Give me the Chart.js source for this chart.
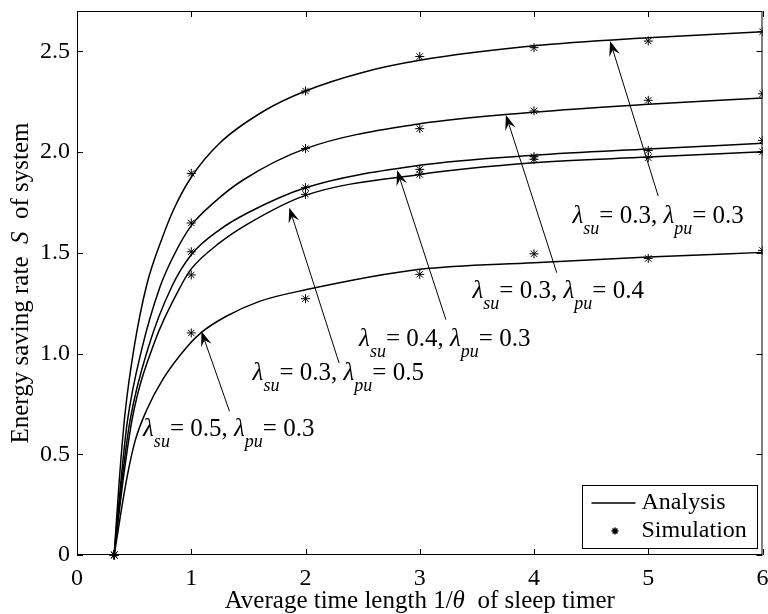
<!DOCTYPE html>
<html><head><meta charset="utf-8">
<script src="https://cdn.jsdelivr.net/npm/chart.js@4.4.1/dist/chart.umd.min.js"></script>
<style>html,body{margin:0;padding:0;background:#fff}#wrap{width:768px;height:614px}</style>
</head><body><div id="wrap"><canvas id="c" width="768" height="614"></canvas></div>
<script>
// ---------- data ----------
const xTicks = [0, 1, 2, 3, 4, 5, 6];
const yTicks = [0, 0.5, 1.0, 1.5, 2.0, 2.5];

// simulation points (asterisks)
const simX = [0.325, 1, 2, 3, 4, 5, 6];
const simA = [0, 1.894, 2.303, 2.474, 2.518, 2.551, 2.597]; // su=0.3 pu=0.3
const simB = [0, 1.648, 2.017, 2.116, 2.204, 2.257, 2.289]; // su=0.3 pu=0.4
const simC = [0, 1.505, 1.823, 1.914, 1.977, 2.008, 2.058]; // su=0.4 pu=0.3
const simD = [0, 1.390, 1.790, 1.889, 1.964, 1.972, 2.002]; // su=0.3 pu=0.5
const simE = [0, 1.102, 1.272, 1.393, 1.495, 1.472, 1.512]; // su=0.5 pu=0.3

// analysis curves
const anaA_x = [0.325, 0.37, 0.42, 0.5, 0.61, 0.75, 0.85, 1.0, 1.25, 1.64, 2.0, 2.5, 3.0, 4.0, 5.0, 6.0];
const anaA_y = [0, 0.37, 0.70, 1.03, 1.34, 1.58, 1.72, 1.875, 2.045, 2.205, 2.303, 2.395, 2.455, 2.527, 2.567, 2.597];
const anaB_x = [0.325, 0.39, 0.44, 0.566, 0.726, 0.85, 1.0, 1.2, 1.45, 2.0, 3.0, 4.0, 5.0, 6.0];
const anaB_y = [0, 0.40, 0.66, 1.019, 1.33, 1.49, 1.635, 1.75, 1.86, 2.017, 2.14, 2.198, 2.237, 2.268];
const anaC_x = [0.325, 0.40, 0.465, 0.624, 0.828, 1.0, 1.25, 1.5, 2.0, 3.0, 4.0, 5.0, 6.0];
const anaC_y = [0, 0.40, 0.67, 1.03, 1.33, 1.49, 1.615, 1.70, 1.823, 1.934, 1.984, 2.015, 2.043];
const anaD_x = [0.325, 0.41, 0.488, 0.674, 0.923, 1.0, 1.25, 1.5, 2.0, 3.0, 4.0, 5.0, 6.0];
const anaD_y = [0, 0.40, 0.69, 1.05, 1.35, 1.42, 1.55, 1.645, 1.785, 1.889, 1.947, 1.975, 2.002];
const anaE_x = [0.325, 0.436, 0.508, 0.61, 0.755, 0.958, 1.089, 1.307, 1.597, 2.0, 3.0, 4.0, 5.0, 6.0];
const anaE_y = [0, 0.38, 0.565, 0.72, 0.875, 1.03, 1.105, 1.185, 1.259, 1.316, 1.418, 1.451, 1.479, 1.502];

// annotation texts
const labelSu = ['0.3', '0.3', '0.4', '0.3', '0.5'];
const labelPu = ['0.3', '0.4', '0.3', '0.5', '0.3'];
const legendTexts = ['Analysis', 'Simulation'];
const xTitleParts = ['Average time length 1/', '\u03B8', '  of sleep timer'];
const yTitleParts = ['Energy saving rate  ', 'S', '  of system'];

// ---------- styling / placement (data-space anchors) ----------
const annoPlace = [
  {lx: 5.087, ly: 1.648, ax0: 5.087, ay0: 1.782, ax1: 4.666, ay1: 2.551},
  {lx: 4.212, ly: 1.275, ax0: 4.199, ay0: 1.401, ax1: 3.754, ay1: 2.184},
  {lx: 3.219, ly: 1.036, ax0: 3.229, ay0: 1.168, ax1: 2.802, ay1: 1.909},
  {lx: 2.287, ly: 0.870, ax0: 2.294, ay0: 0.953, ax1: 1.858, ay1: 1.724},
  {lx: 1.328, ly: 0.589, ax0: 1.335, ay0: 0.713, ax1: 1.089, ay1: 1.110}
];
const FONT = '"Liberation Serif", "Times New Roman", serif';

function zip(xs, ys) { return xs.map((v, i) => ({x: v, y: ys[i]})); }
function lineDs(xs, ys) {
  return {data: zip(xs, ys), showLine: true, borderColor: '#000', borderWidth: 1.5,
    pointRadius: 0, cubicInterpolationMode: 'monotone', fill: false, order: 2};
}
function simDs(ys) {
  return {data: zip(simX, ys), showLine: false, pointStyle: 'star', pointRadius: 4.5,
    borderColor: '#000', backgroundColor: '#000', pointBorderWidth: 1, borderWidth: 1,
    clip: {left: false, top: false, right: 0, bottom: false}, order: 1};
}

function drawArrow(ctx, x0, y0, x1, y1) {
  const dx = x1 - x0, dy = y1 - y0, L = Math.hypot(dx, dy);
  const ux = dx / L, uy = dy / L, nx = -uy, ny = ux;
  const hl = 15, hw = 5.5;
  ctx.beginPath();
  ctx.moveTo(x0, y0);
  ctx.lineTo(x1 - ux * hl * 0.6, y1 - uy * hl * 0.6);
  ctx.lineWidth = 1; ctx.strokeStyle = '#000'; ctx.stroke();
  ctx.beginPath();
  ctx.moveTo(x1, y1);
  ctx.lineTo(x1 - ux * hl + nx * hw, y1 - uy * hl + ny * hw);
  ctx.lineTo(x1 - ux * hl * 0.62, y1 - uy * hl * 0.62);
  ctx.lineTo(x1 - ux * hl - nx * hw, y1 - uy * hl - ny * hw);
  ctx.closePath(); ctx.fillStyle = '#000'; ctx.fill();
}

function drawLambdaLabel(ctx, cx, by, su, pu) {
  const segs = [
    {t: '\u03BB', f: 'italic 25px ' + FONT, dy: 0},
    {t: 'su', f: 'italic 18px ' + FONT, dy: 11},
    {t: '= ' + su + ', ', f: '25px ' + FONT, dy: 0},
    {t: '\u03BB', f: 'italic 25px ' + FONT, dy: 0},
    {t: 'pu', f: 'italic 18px ' + FONT, dy: 11},
    {t: '= ' + pu, f: '25px ' + FONT, dy: 0}
  ];
  let w = 0;
  segs.forEach(s => { ctx.font = s.f; s.w = ctx.measureText(s.t).width; w += s.w; });
  let x = cx - w / 2;
  ctx.fillStyle = '#000'; ctx.textBaseline = 'alphabetic'; ctx.textAlign = 'left';
  segs.forEach(s => { ctx.font = s.f; ctx.fillText(s.t, x, by + s.dy); x += s.w; });
}

function drawParts(ctx, parts, cx, cy, size) {
  const fonts = [size + 'px ' + FONT, 'italic ' + size + 'px ' + FONT, size + 'px ' + FONT];
  let w = 0; const ws = [];
  parts.forEach((p, i) => { ctx.font = fonts[i]; ws.push(ctx.measureText(p).width); w += ws[i]; });
  let x = cx - w / 2;
  ctx.textBaseline = 'middle'; ctx.textAlign = 'left'; ctx.fillStyle = '#000';
  parts.forEach((p, i) => { ctx.font = fonts[i]; ctx.fillText(p, x, cy); x += ws[i]; });
}

const deco = {
  id: 'deco',
  afterDraw(chart) {
    const {ctx, chartArea: a, scales: {x, y}} = chart;
    ctx.save();
    // ticks (inward, mirrored)
    ctx.strokeStyle = '#000'; ctx.lineWidth = 1;
    ctx.beginPath();
    xTicks.forEach(v => {
      const px = Math.round(x.getPixelForValue(v)) + 0.5;
      ctx.moveTo(px, a.bottom); ctx.lineTo(px, a.bottom - 6);
      ctx.moveTo(px, a.top); ctx.lineTo(px, a.top + 6);
    });
    yTicks.forEach(v => {
      const py = Math.round(y.getPixelForValue(v)) + 0.5;
      ctx.moveTo(a.left, py); ctx.lineTo(a.left + 6, py);
      ctx.moveTo(a.right, py); ctx.lineTo(a.right - 6, py);
    });
    ctx.stroke();
    // frame
    ctx.strokeRect(a.left + 0.5, a.top + 0.5, a.right - a.left - 1, a.bottom - a.top - 1);

    // annotations
    annoPlace.forEach((p, i) => {
      drawArrow(ctx, x.getPixelForValue(p.ax0), y.getPixelForValue(p.ay0),
                     x.getPixelForValue(p.ax1), y.getPixelForValue(p.ay1));
      drawLambdaLabel(ctx, x.getPixelForValue(p.lx), y.getPixelForValue(p.ly), labelSu[i], labelPu[i]);
    });

    // legend
    const R = a.right - 6, B = a.bottom - 7, W = 175, H = 63;
    ctx.fillStyle = '#fff'; ctx.fillRect(R - W, B - H, W, H);
    ctx.strokeStyle = '#000'; ctx.lineWidth = 1;
    ctx.strokeRect(Math.round(R - W) + 0.5, Math.round(B - H) + 0.5, W, H);
    ctx.beginPath(); ctx.lineWidth = 1.5;
    ctx.moveTo(R - W + 10, B - H + 18); ctx.lineTo(R - W + 54, B - H + 18); ctx.stroke();
    Chart.helpers.drawPoint(ctx, {pointStyle: 'star', radius: 3.5, borderWidth: 1},
      R - W + 33.5, B - H + 46);
    ctx.fillStyle = '#000'; ctx.font = '24px ' + FONT; ctx.textBaseline = 'middle'; ctx.textAlign = 'left';
    ctx.fillText(legendTexts[0], R - W + 60, B - H + 18);
    ctx.fillText(legendTexts[1], R - W + 60, B - H + 46);

    // axis titles
    drawParts(ctx, xTitleParts, (a.left + a.right) / 2, 601, 25);
    ctx.save();
    ctx.translate(21, (a.top + a.bottom) / 2);
    ctx.rotate(-Math.PI / 2);
    drawParts(ctx, yTitleParts, 0, 0, 25);
    ctx.restore();
    ctx.restore();
  }
};

new Chart(document.getElementById('c'), {
  type: 'scatter',
  data: {datasets: [
    lineDs(anaA_x, anaA_y), lineDs(anaB_x, anaB_y), lineDs(anaC_x, anaC_y),
    lineDs(anaD_x, anaD_y), lineDs(anaE_x, anaE_y),
    simDs(simA), simDs(simB), simDs(simC), simDs(simD), simDs(simE)
  ]},
  options: {
    responsive: false, animation: false, devicePixelRatio: 1,
    layout: {padding: {top: 11, right: 2, left: 0, bottom: 0}},
    plugins: {legend: {display: false}, tooltip: {enabled: false}},
    scales: {
      x: {type: 'linear', min: 0, max: 6,
        grid: {display: false, drawTicks: false}, border: {display: false},
        afterBuildTicks: s => { s.ticks = xTicks.map(v => ({value: v})); },
        afterFit: s => { s.height = 59; s.paddingLeft = 0; s.paddingRight = 0; },
        ticks: {color: '#000', padding: 9, maxRotation: 0, autoSkip: false,
          font: {family: FONT, size: 24}, callback: v => String(v)}},
      y: {type: 'linear', min: 0, max: 2.7,
        grid: {display: false, drawTicks: false}, border: {display: false},
        afterBuildTicks: s => { s.ticks = yTicks.map(v => ({value: v})); },
        afterFit: s => { s.width = 77; s.paddingTop = 0; s.paddingBottom = 0; },
        ticks: {color: '#000', padding: 7, autoSkip: false,
          font: {family: FONT, size: 24}, callback: v => (v === 0 ? '0' : v.toFixed(1))}}
    }
  },
  plugins: [deco]
});
</script></body></html>
